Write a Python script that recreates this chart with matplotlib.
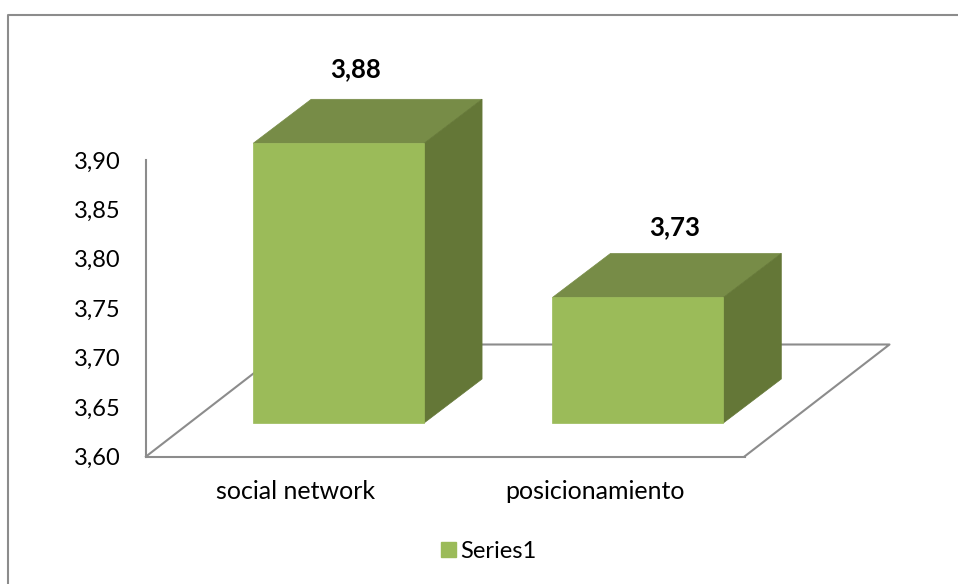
#!/usr/bin/env python3

"""
Fake 3D column chart, two categories with one series
"""

import matplotlib
matplotlib.use("Agg")
import matplotlib.pyplot as plt
from matplotlib.lines import Line2D
from matplotlib.patches import Patch, Polygon
from matplotlib.transforms import IdentityTransform

categories = ["social network", "posicionamiento"]
values = [3.883, 3.727]
y_ticks = [3.60, 3.65, 3.70, 3.75, 3.80, 3.85, 3.90]
series_name = "Series1"

W, H = 958, 584
GREY = "#8c8c8c"
FRONT = "#9bbb59"
TOP = "#778c47"
SIDE = "#647737"
BAR_W = 0.571


def comma(v):
    """ Formats a number with two decimals and a decimal comma """
    return f"{v:.2f}".replace(".", ",")


def px_poly(ax, points, color, zorder):
    """ Adds a filled polygon given in pixel coords """
    ax.add_patch(Polygon(points, closed=True, facecolor=color, edgecolor=color,
                         linewidth=0.5, transform=IdentityTransform(),
                         clip_on=False, zorder=zorder))


plt.rcParams["font.family"] = ["Lato", "DejaVu Sans"]
fig = plt.figure(figsize=(W / 100, H / 100), dpi=100)
ax = fig.add_axes([146 / W, 1 - 456.5 / H, 598.5 / W, 296.5 / H])
ax.set_xlim(-0.5, 1.5)
ax.set_ylim(y_ticks[0], y_ticks[-1])
ax.patch.set_alpha(0)

for side in ["top", "right"]:
    ax.spines[side].set_visible(False)
for side in ["left", "bottom"]:
    ax.spines[side].set_color(GREY)
    ax.spines[side].set_linewidth(1.5)

ax.set_yticks(y_ticks)
ax.set_yticklabels([comma(t) for t in y_ticks], fontsize=17)
ax.set_xticks(range(len(categories)))
ax.set_xticklabels(categories, fontsize=18)
ax.tick_params(axis="y", length=0, pad=18)
ax.tick_params(axis="x", length=0, pad=17)

to_px = ax.transData.transform
base = y_ticks[0]

# floor outline in pixels, drawn behind the bars
floor_depth = (145, 112)
fl = to_px((-0.5, base))
fr = to_px((1.5, base))
bl = (fl[0] + floor_depth[0], fl[1] + floor_depth[1])
br = (fr[0] + floor_depth[0], fr[1] + floor_depth[1])
ax.add_line(Line2D([fl[0], bl[0], br[0], fr[0]], [fl[1], bl[1], br[1], fr[1]],
                   color=GREY, lw=1.5, transform=IdentityTransform(),
                   clip_on=False, zorder=1))

near = (43, 33.5)
far = (101, 77.5)
label_shift = [(17, 74), (37, 70)]
for i, v in enumerate(values):
    x0, x1 = i - BAR_W / 2, i + BAR_W / 2
    a, b = to_px((x0, v)), to_px((x1, v))
    c, d = to_px((x1, base)), to_px((x0, base))
    nr = lambda p: (p[0] + near[0], p[1] + near[1])
    fa = lambda p: (p[0] + far[0], p[1] + far[1])
    px_poly(ax, [nr(d), nr(c), nr(b), nr(a)], FRONT, 3)
    px_poly(ax, [nr(a), nr(b), fa(b), fa(a)], TOP, 2)
    px_poly(ax, [nr(b), fa(b), fa(c), nr(c)], SIDE, 2)
    ax.annotate(comma(v), xy=(i, v), xycoords="data",
                xytext=(near[0] + label_shift[i][0], near[1] + label_shift[i][1]),
                textcoords="offset pixels", ha="center", va="center",
                fontsize=18.5, fontweight="bold", color="black")

# outer chart frame, open at the right and bottom of the crop
fig.add_artist(Line2D([8 / W, 8 / W, 1], [0, 1 - 15 / H, 1 - 15 / H], color=GREY, lw=1.5))

fig.legend(handles=[Patch(facecolor=FRONT, edgecolor=FRONT, label=series_name)],
           loc="center", bbox_to_anchor=(489 / W, 1 - 551 / H), frameon=False,
           fontsize=17, handlelength=0.6, handleheight=0.6, handletextpad=0.2)

fig.savefig("out.png", dpi=100, facecolor="white")
